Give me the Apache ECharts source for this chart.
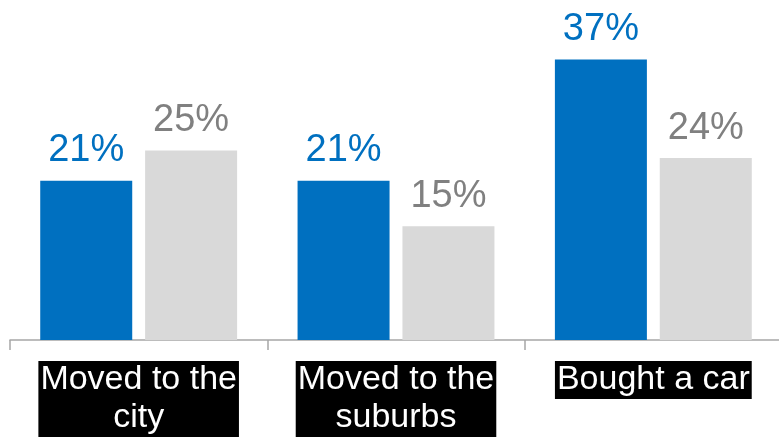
<!DOCTYPE html>
<html>
<head>
<meta charset="utf-8">
<script src="https://cdn.jsdelivr.net/npm/echarts@6/dist/echarts.min.js"></script>
<style>
    html, body { margin: 0; padding: 0; background: #fff; }
    #main { width: 779px; height: 441px; }
</style>
</head>
<body>
<div id="main"></div>
<script>
var categories = ['Moved to the\ncity', 'Moved to the\nsuburbs', 'Bought a car'];
var blueValues = [21, 21, 37];
var grayValues = [25, 15, 24];

(function() {
    var myChart = echarts.init(document.getElementById('main'));
    var font = "'Liberation Sans', Arial, sans-serif";

    // label on top of each bar
    function barLabel(color) {
        return {
            show: true,
            position: 'top',
            distance: 11,
            formatter: '{c}%',
            color: color,
            fontSize: 38,
            fontFamily: font
        };
    }

    var option = {
        animation: false,
        grid: {
            left: 10,
            width: 772,
            top: 2,
            bottom: 101,
            containLabel: false,
            outerBoundsMode: 'none'
        },
        xAxis: {
            type: 'category',
            data: categories,
            axisLine: {
                lineStyle: { color: '#A6A6A6', width: 1.5 }
            },
            axisTick: {
                show: true,
                inside: false,
                length: 10,
                lineStyle: { color: '#A6A6A6', width: 1.5 }
            },
            axisLabel: {
                margin: 21,
                color: '#fff',
                fontSize: 34,
                fontFamily: font,
                lineHeight: 38,
                backgroundColor: '#000',
                padding: [0, 2]
            }
        },
        yAxis: {
            type: 'value',
            min: 0,
            max: 44.6,
            show: false,
            splitLine: { show: false }
        },
        series: [{
            name: 'blue',
            type: 'bar',
            data: blueValues,
            barWidth: 92,
            barGap: '14%',
            itemStyle: { color: '#0070C0' },
            label: barLabel('#0070C0')
        }, {
            name: 'gray',
            type: 'bar',
            data: grayValues,
            barWidth: 92,
            itemStyle: { color: '#D9D9D9' },
            label: barLabel('#808080')
        }]
    };
    myChart.setOption(option);
})();
</script>
</body>
</html>
